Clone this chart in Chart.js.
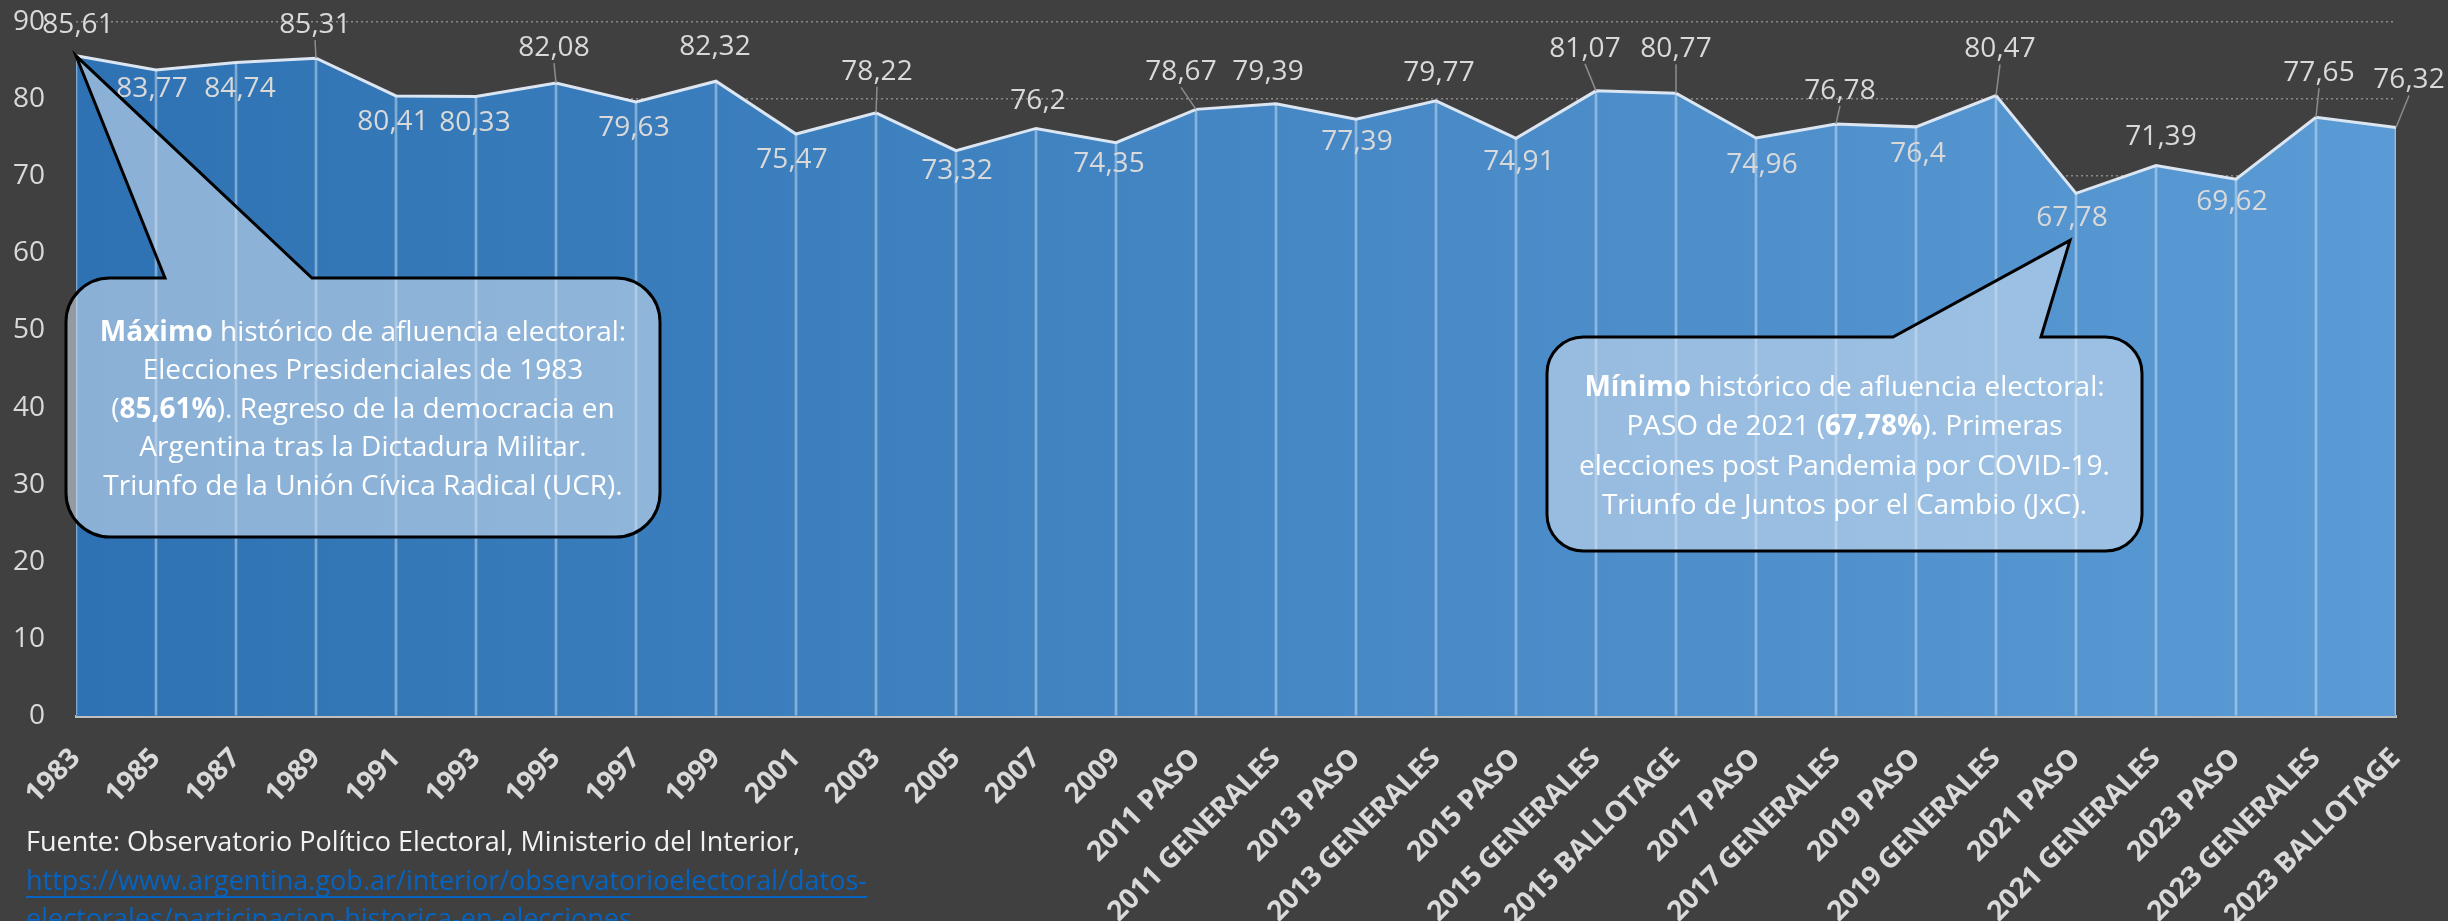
<!DOCTYPE html>
<html>
<head>
<meta charset="utf-8">
<script src="https://cdn.jsdelivr.net/npm/chart.js@4.4.1/dist/chart.umd.min.js"></script>
<style>
  html, body { margin: 0; padding: 0; background: #404040; }
  canvas { display: block; }
</style>
</head>
<body>
<canvas id="chart" width="2448" height="921"></canvas>
<script>
const categories = ['1983', '1985', '1987', '1989', '1991', '1993', '1995', '1997', '1999', '2001',
  '2003', '2005', '2007', '2009', '2011 PASO', '2011 GENERALES', '2013 PASO', '2013 GENERALES',
  '2015 PASO', '2015 GENERALES', '2015 BALLOTAGE', '2017 PASO', '2017 GENERALES', '2019 PASO',
  '2019 GENERALES', '2021 PASO', '2021 GENERALES', '2023 PASO', '2023 GENERALES', '2023 BALLOTAGE'];
const turnout = [85.61, 83.77, 84.74, 85.31, 80.41, 80.33, 82.08, 79.63, 82.32, 75.47,
  78.22, 73.32, 76.2, 74.35, 78.67, 79.39, 77.39, 79.77, 74.91, 81.07,
  80.77, 74.96, 76.78, 76.4, 80.47, 67.78, 71.39, 69.62, 77.65, 76.32];
const yMin = 0, yMax = 90, yStep = 10;

// where each value label sits, in px from its point (the Excel labels were dragged by hand)
const labelDx = [2, -4, 4, -1, -3, -1, -2, -2, -1, -4, 1, 1, 2, -7, -15, -8, 1, 3, 3, -11,
  0, 6, 4, 2, 4, -4, 5, -4, 3, 13];
const labelDy = [-31, 19, 26, -33, 26, 26, -35, 26, -34, 26, -41, 20, -27, 21, -37, -32, 23, -28, 24, -42,
  -44, 27, -33, 27, -46, 25, -28, 23, -44, -47];
const leaderIdx = [3, 6, 10, 14, 19, 20, 22, 24, 28, 29];

const sourceLines = [
  'Fuente: Observatorio Político Electoral, Ministerio del Interior,',
  'https://www.argentina.gob.ar/interior/observatorioelectoral/datos-',
  'electorales/participacion-historica-en-elecciones'
];

const callouts = [
  {
    point: 0, tipDx: 0, tipDy: 0,
    box: { x: 66, y: 278, w: 594, h: 259 }, tail: [165, 312],
    textTop: 333, gap: 38.5,
    lines: [
      [['Máximo', true], [' histórico de afluencia electoral:', false]],
      [['Elecciones Presidenciales de 1983', false]],
      [['(', false], ['85,61%', true], ['). Regreso de la democracia en', false]],
      [['Argentina tras la Dictadura Militar.', false]],
      [['Triunfo de la Unión Cívica Radical (UCR).', false]]
    ]
  },
  {
    point: 25, tipDx: -6, tipDy: 47,
    box: { x: 1547, y: 337, w: 595, h: 214 }, tail: [1893, 2041],
    textTop: 388, gap: 39.3,
    lines: [
      [['Mínimo', true], [' histórico de afluencia electoral:', false]],
      [['PASO de 2021 (', false], ['67,78%', true], ['). Primeras', false]],
      [['elecciones post Pandemia por COVID-19.', false]],
      [['Triunfo de Juntos por el Cambio (JxC).', false]]
    ]
  }
];

const FONT = "'Open Sans', sans-serif";
const TEXT = '#D9D9D9';

function fmt(v) {
  return String(v).replace('.', ',');
}

const background = {
  id: 'background',
  beforeDraw(chart) {
    const c = chart.ctx;
    c.save();
    c.fillStyle = '#404040';
    c.fillRect(0, 0, chart.width, chart.height);
    c.restore();
  }
};

const valueLabels = {
  id: 'valueLabels',
  afterDatasetsDraw(chart) {
    const c = chart.ctx;
    const pts = chart.getDatasetMeta(1).data;
    c.save();
    c.font = '28px ' + FONT;
    c.textAlign = 'center';
    c.textBaseline = 'middle';
    pts.forEach((pt, i) => {
      const lx = pt.x + labelDx[i];
      const ly = pt.y + labelDy[i];
      if (leaderIdx.includes(i)) {
        c.strokeStyle = '#8C8C8C';
        c.lineWidth = 1.5;
        c.beginPath();
        c.moveTo(lx, ly + 15);
        c.lineTo(pt.x, pt.y);
        c.stroke();
      }
      c.fillStyle = TEXT;
      c.fillText(fmt(turnout[i]), lx, ly);
    });
    c.restore();
  }
};

function drawCallout(c, chart, co) {
  const pt = chart.getDatasetMeta(1).data[co.point];
  const tx = pt.x + co.tipDx, ty = pt.y + co.tipDy;
  const { x, y, w, h } = co.box;
  const r = Math.min(w, h) * 0.17;
  c.beginPath();
  c.moveTo(x + r, y);
  c.lineTo(co.tail[0], y);
  c.lineTo(tx, ty);
  c.lineTo(co.tail[1], y);
  c.lineTo(x + w - r, y);
  c.arcTo(x + w, y, x + w, y + r, r);
  c.lineTo(x + w, y + h - r);
  c.arcTo(x + w, y + h, x + w - r, y + h, r);
  c.lineTo(x + r, y + h);
  c.arcTo(x, y + h, x, y + h - r, r);
  c.lineTo(x, y + r);
  c.arcTo(x, y, x + r, y, r);
  c.closePath();
  c.fillStyle = 'rgba(215,228,242,0.55)';
  c.fill();
  c.strokeStyle = '#000000';
  c.lineWidth = 3;
  c.stroke();

  const cx = x + w / 2;
  c.textAlign = 'left';
  c.textBaseline = 'middle';
  c.fillStyle = '#FFFFFF';
  co.lines.forEach((segs, li) => {
    let total = 0;
    segs.forEach(s => {
      c.font = (s[1] ? 'bold ' : '') + '28px ' + FONT;
      total += c.measureText(s[0]).width;
    });
    let sx = cx - total / 2;
    const sy = co.textTop + li * co.gap;
    segs.forEach(s => {
      c.font = (s[1] ? 'bold ' : '') + '28px ' + FONT;
      c.fillText(s[0], sx, sy);
      sx += c.measureText(s[0]).width;
    });
  });
}

const decorations = {
  id: 'decorations',
  afterDraw(chart) {
    const c = chart.ctx;
    c.save();
    callouts.forEach(co => drawCallout(c, chart, co));

    c.font = '27px ' + FONT;
    c.textAlign = 'left';
    c.textBaseline = 'middle';
    c.fillStyle = '#F2F2F2';
    c.fillText(sourceLines[0], 26, 843);
    c.fillStyle = '#0563C1';
    c.strokeStyle = '#0563C1';
    c.lineWidth = 2;
    [882, 920].forEach((yy, k) => {
      const txt = sourceLines[k + 1];
      c.fillText(txt, 26, yy);
      const wd = c.measureText(txt).width;
      c.beginPath();
      c.moveTo(26, yy + 15);
      c.lineTo(26 + wd, yy + 15);
      c.stroke();
    });
    c.restore();
  }
};

const ctx = document.getElementById('chart').getContext('2d');
new Chart(ctx, {
  type: 'line',
  data: {
    labels: categories,
    datasets: [
      {
        type: 'bar',
        data: turnout,
        barThickness: 2,
        backgroundColor: 'rgba(225,235,246,0.45)',
        borderWidth: 0
      },
      {
        type: 'line',
        data: turnout,
        fill: 'origin',
        borderColor: '#DCE6F2',
        borderWidth: 3,
        pointRadius: 0,
        tension: 0,
        backgroundColor(context) {
          const a = context.chart.chartArea;
          if (!a) return '#3F82C4';
          const g = context.chart.ctx.createLinearGradient(a.left, 0, a.right, 0);
          g.addColorStop(0, '#2E72B3');
          g.addColorStop(1, '#5B9BD5');
          return g;
        }
      }
    ]
  },
  options: {
    responsive: false,
    animation: false,
    layout: { padding: { top: 22, right: 52, left: 0, bottom: 0 } },
    plugins: {
      legend: { display: false },
      tooltip: { enabled: false }
    },
    scales: {
      x: {
        offset: false,
        grid: { display: false, drawTicks: false },
        border: { color: '#BFBFBF', width: 3 },
        ticks: {
          autoSkip: false,
          minRotation: 45,
          maxRotation: 45,
          padding: 26,
          color: TEXT,
          font: { family: FONT, size: 28, weight: 'bold' }
        },
        afterFit(scale) { scale.height = 205; }
      },
      y: {
        min: yMin,
        max: yMax,
        ticks: {
          stepSize: yStep,
          padding: 31,
          color: TEXT,
          font: { family: FONT, size: 28 }
        },
        grid: { color: '#8A8A8A', lineWidth: 1.5, drawTicks: false },
        border: { display: false, dash: [2, 3] },
        afterFit(scale) {
          scale.width = 76;
          scale.paddingTop = 0;
          scale.paddingBottom = 0;
        }
      }
    }
  },
  plugins: [background, valueLabels, decorations]
});
</script>
</body>
</html>
